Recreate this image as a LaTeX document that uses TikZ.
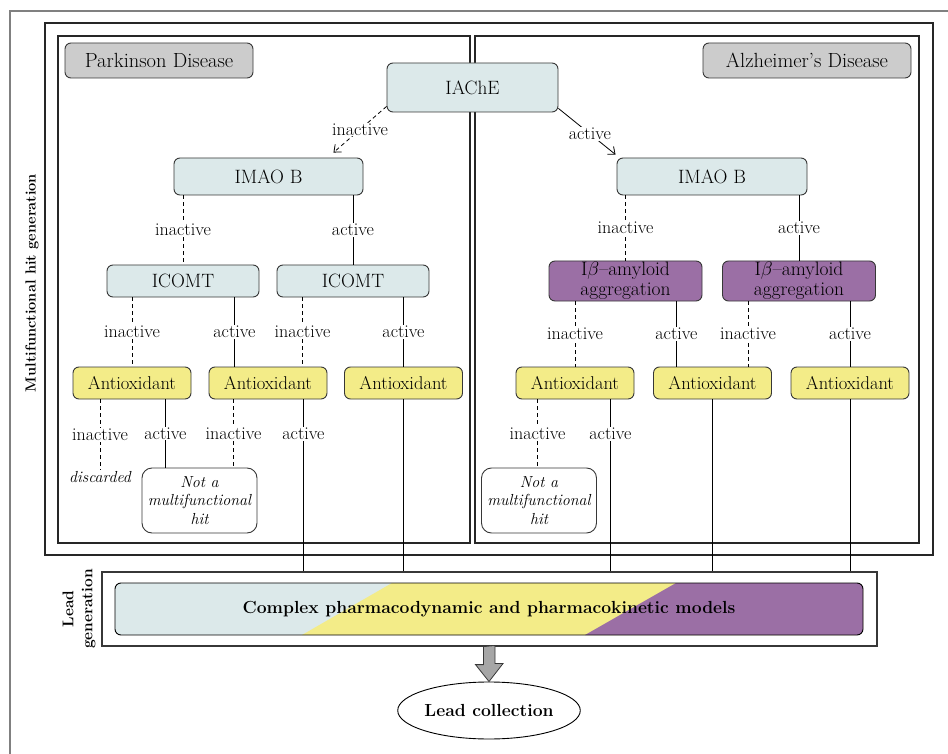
\RequirePackage{fix-cm}
\documentclass[tikz,border=0pt]{standalone}
\usetikzlibrary{arrows.meta, shapes.geometric}

\definecolor{paleblue}{RGB}{220,233,234}
\definecolor{paleyellow}{RGB}{243,236,136}
\definecolor{mauve}{RGB}{155,111,165}
\definecolor{boxgray}{RGB}{204,204,204}
\definecolor{edgegray}{RGB}{55,55,55}

\tikzset{
  box/.style={draw=edgegray, line width=0.9pt, rounded corners=6pt, inner sep=0pt, align=center},
  disease/.style={box, fill=boxgray, minimum height=35, font=\fontsize{20.5}{22}\selectfont},
  target/.style={box, fill=paleblue, font=\fontsize{19.3}{21}\selectfont},
  amyloid/.style={box, fill=mauve, minimum width=153, minimum height=40, font=\fontsize{19.5}{20}\selectfont},
  aox/.style={box, fill=paleyellow, minimum width=118, minimum height=32, font=\fontsize{18.5}{20}\selectfont},
  note/.style={box, fill=white, rounded corners=10pt, minimum width=115, minimum height=65, font=\itshape\fontsize{16}{18.5}\selectfont},
  lbl/.style={fill=white, inner sep=1pt, font=\fontsize{18}{20}\selectfont},
  act/.style={draw=black, line width=0.8pt},
  inact/.style={act, dash pattern=on 4pt off 3pt},
  frame/.style={draw=black!85, line width=1.4pt},
  tip/.style={-{Straight Barb[length=6pt,width=10pt]}}
}

\begin{document}
\begin{tikzpicture}[x=1pt, y=-1pt]
\useasboundingbox (0,0) rectangle (948,754);
% Frames round the two stages
\draw[draw=gray, line width=1.2pt] (948,11) -- (10,11) -- (10,754);
\draw[frame] (45,23) rectangle (933,555);
\draw[frame, line width=1.1pt] (58,36) rectangle (470,543);
\draw[frame, line width=1.1pt] (475,36) rectangle (919,543);
\node[rotate=90, font=\bfseries\fontsize{14.6}{16}\selectfont] (hitgen) at (32,283) {Multifunctional hit generation};
% Disease tags
\node[disease, minimum width=188] (pd) at (159,60.5) {Parkinson Disease};
\node[disease, minimum width=208] (ad) at (807,60.5) {Alzheimer's Disease};
% First targets
\node[target, minimum width=171, minimum height=49] (iache) at (472.5,87.5) {IAChE};
\node[target, minimum width=189, minimum height=37] (imaol) at (268.5,176.5) {IMAO B};
\node[target, minimum width=190, minimum height=37] (imaor) at (712,176.5) {IMAO B};
\draw[inact, tip] ([yshift=6pt]iache.south west) -- node[lbl] {inactive} ([xshift=-30pt,yshift=5pt]imaol.north east);
\draw[act, tip] ([yshift=4pt]iache.south east) -- node[lbl, pos=.55] {active} ([xshift=-1pt,yshift=3pt]imaor.north west);
% Second targets
\node[target, minimum width=152, minimum height=32] (icomta) at (183,281) {ICOMT};
\node[target, minimum width=152, minimum height=32] (icomtb) at (353,281) {ICOMT};
\node[amyloid] (amya) at (625.5,281) {I$\beta$--amyloid\\aggregation};
\node[amyloid] (amyb) at (799,281) {I$\beta$--amyloid\\aggregation};
\draw[inact] (imaol.south -| icomta.north) -- node[lbl] {inactive} (icomta.north);
\draw[act] (imaol.south -| icomtb.north) -- node[lbl] {active} (icomtb.north);
\draw[inact] (imaor.south -| amya.north) -- node[lbl] {inactive} (amya.north);
\draw[act] (imaor.south -| amyb.north) -- node[lbl] {active} (amyb.north);
% Antioxidant level
\node[aox] (aoxa) at (132,383) {Antioxidant};
\node[aox] (aoxb) at (268,383) {Antioxidant};
\node[aox] (aoxc) at (403.5,383) {Antioxidant};
\node[aox] (aoxd) at (575,383) {Antioxidant};
\node[aox] (aoxe) at (712.5,383) {Antioxidant};
\node[aox] (aoxf) at (850,383) {Antioxidant};
\draw[inact] (icomta.south -| aoxa.north) -- node[lbl] {inactive} (aoxa.north);
\draw[act] ([xshift=-25pt]icomta.south east) -- node[lbl] {active} ([xshift=-25pt]icomta.south east |- aoxb.north);
\draw[inact] ([xshift=26pt]icomtb.south west) -- node[lbl] {inactive} ([xshift=26pt]icomtb.south west |- aoxb.north);
\draw[act] (icomtb.south -| aoxc.north) -- node[lbl] {active} (aoxc.north);
\draw[inact] (amya.south -| aoxd.north) -- node[lbl] {inactive} (aoxd.north);
\draw[act] ([xshift=-26pt]amya.south east) -- node[lbl] {active} ([xshift=-26pt]amya.south east |- aoxe.north);
\draw[inact] ([xshift=26pt]amyb.south west) -- node[lbl] {inactive} ([xshift=26pt]amyb.south west |- aoxe.north);
\draw[act] (amyb.south -| aoxf.north) -- node[lbl] {active} (aoxf.north);
% Dead ends
\node[inner sep=1pt, font=\itshape\fontsize{16}{18}\selectfont] (discarded) at (100,477) {discarded};
\node[note] (nota) at (199.5,500.5) {Not a\\multifunctional\\hit};
\node[note] (notb) at (539,500.5) {Not a\\multifunctional\\hit};
% Lead generation stage
\node[draw=edgegray, line width=1.2pt, minimum width=775, minimum height=74, inner sep=0pt] (leadbox) at (489.5,609) {};
\node[rotate=90, align=center, font=\bfseries\fontsize{15.5}{19}\selectfont] (leadgen) at (79,609) {Lead\\generation};
\begin{scope}
\clip[rounded corners=6pt] (115,583) rectangle (863,635);
\fill[paleblue] (115,583) rectangle (863,635);
\fill[paleyellow] (392,583) -- (863,583) -- (863,635) -- (302,635) -- cycle;
\fill[mauve] (676,583) -- (863,583) -- (863,635) -- (585,635) -- cycle;
\end{scope}
\node[draw=black, line width=0.9pt, rounded corners=6pt, minimum width=748, minimum height=52, inner sep=0pt, font=\bfseries\fontsize{17.5}{20}\selectfont] (models) at (489,609) {Complex pharmacodynamic and pharmacokinetic models};
% Hits that go on to the models
\draw[inact] (aoxa.south -| discarded) -- node[lbl] {inactive} (discarded.north);
\draw[act] ([xshift=-26pt]aoxa.south east) -- node[lbl] {active} ([xshift=-26pt]aoxa.south east |- nota.north);
\draw[inact] ([xshift=25pt]aoxb.south west) -- node[lbl] {inactive} ([xshift=25pt]aoxb.south west |- nota.north);
\draw[act] ([xshift=-24pt]aoxb.south east) -- node[lbl, pos=.2] {active} ([xshift=-24pt]aoxb.south east |- leadbox.north);
\draw[act] (aoxc.south) -- (aoxc.south |- leadbox.north);
\draw[inact] ([xshift=22pt]aoxd.south west) -- node[lbl] {inactive} ([xshift=22pt]aoxd.south west |- notb.north);
\draw[act] ([xshift=-24pt]aoxd.south east) -- node[lbl, pos=.2] {active} ([xshift=-24pt]aoxd.south east |- leadbox.north);
\draw[act] (aoxe.south) -- (aoxe.south |- leadbox.north);
\draw[act] (aoxf.south) -- (aoxf.south |- leadbox.north);
% Final collection
\node[ellipse, draw=black, line width=0.9pt, minimum width=176, minimum height=57, inner sep=0pt, font=\bfseries\fontsize{17.5}{20}\selectfont] (leadcoll) at (489,710.5) {Lead collection};
\draw[fill=black!35, draw=edgegray, line width=0.8pt] ([xshift=-6pt]leadbox.south) -- ++(0,18) -- ++(-8,0) -- (leadcoll.north) -- ++(14,-18) -- ++(-8,0) -- ++(0,-18) -- cycle;
\end{tikzpicture}
\end{document}
